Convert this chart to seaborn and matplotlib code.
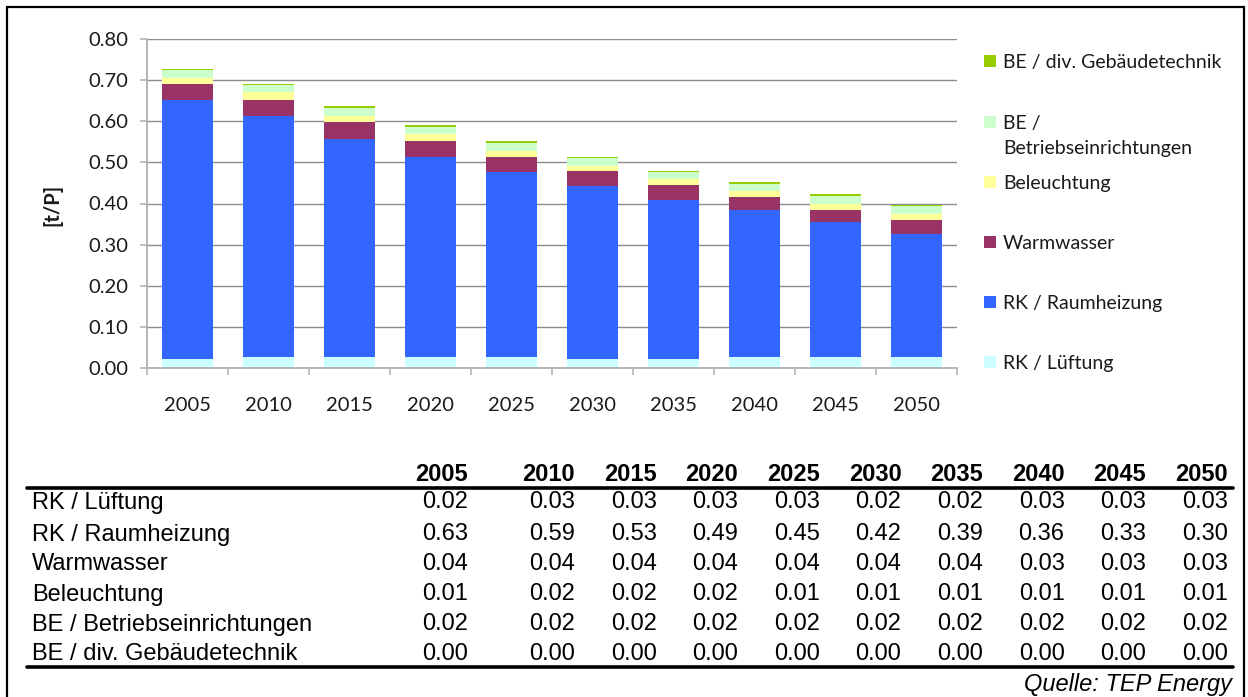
import numpy as np
import matplotlib
matplotlib.use("Agg")
import matplotlib.pyplot as plt
import seaborn as sns
from matplotlib.lines import Line2D
from matplotlib.patches import Rectangle
from matplotlib.ticker import FormatStrFormatter, FixedLocator

# CO2 emissions per person by end use [t/P]
years = ["2005", "2010", "2015", "2020", "2025", "2030", "2035", "2040", "2045", "2050"]
lueftung = [0.021, 0.026, 0.026, 0.026, 0.026, 0.022, 0.022, 0.026, 0.026, 0.026]
raumheizung = [0.631, 0.587, 0.532, 0.487, 0.451, 0.420, 0.387, 0.358, 0.329, 0.301]
warmwasser = [0.039, 0.039, 0.039, 0.039, 0.036, 0.036, 0.036, 0.032, 0.030, 0.033]
beleuchtung = [0.014, 0.018, 0.016, 0.016, 0.014, 0.013, 0.014, 0.014, 0.014, 0.014]
betriebseinrichtungen = [0.020, 0.017, 0.019, 0.018, 0.020, 0.020, 0.018, 0.018, 0.019, 0.019]
gebaeudetechnik = [0.003, 0.004, 0.004, 0.004, 0.004, 0.002, 0.002, 0.004, 0.004, 0.004]

labels = ["RK / Lüftung", "RK / Raumheizung", "Warmwasser", "Beleuchtung",
          "BE / Betriebseinrichtungen", "BE / div. Gebäudetechnik"]
colors = ["#CCFFFF", "#3366FF", "#993366", "#FFFF99", "#CCFFCC", "#99CC00"]
series = [lueftung, raumheizung, warmwasser, beleuchtung, betriebseinrichtungen, gebaeudetechnik]

sns.set_style("white")
plt.rcParams["font.family"] = ["Lato", "DejaVu Sans"]

W, H = 1248, 697
fig = plt.figure(figsize=(W / 100, H / 100), dpi=100)


def fx(px):
    return px / W


def fy(py):
    return 1 - py / H


ax = fig.add_axes([fx(147), fy(368), (957 - 147) / W, (368 - 39) / H])

# stacked bars
bottom = np.zeros(len(years))
for vals, color in zip(series, colors):
    sns.barplot(x=years, y=vals, bottom=bottom.copy(), color=color, saturation=1,
                width=0.62, errorbar=None, linewidth=0, ax=ax)
    bottom += np.array(vals)

ax.set_xlim(-0.5, len(years) - 0.5)
ax.set_ylim(0, 0.8)
ax.set_yticks(np.arange(0, 0.801, 0.1))
ax.yaxis.set_major_formatter(FormatStrFormatter("%.2f"))
ax.yaxis.grid(True, color="#8c8c8c", lw=1.0)
ax.xaxis.grid(False)
ax.set_axisbelow(True)
for s in ["top", "right"]:
    ax.spines[s].set_visible(False)
for s in ["left", "bottom"]:
    ax.spines[s].set_color("#b4b4b4")
    ax.spines[s].set_linewidth(1.4)
ax.set_xlabel("")
ax.set_ylabel("")
ax.tick_params(axis="y", length=5, width=1.2, color="#b4b4b4", labelsize=14.5,
               pad=8.5, left=True, labelcolor="#1a1a1a")
ax.tick_params(axis="x", which="major", length=0, labelsize=14.5, pad=21,
               labelcolor="#1a1a1a")
ax.xaxis.set_minor_locator(FixedLocator(np.arange(-0.5, len(years), 1.0)))
ax.tick_params(axis="x", which="minor", length=5, width=1.2, color="#b4b4b4",
               bottom=True)

fig.text(fx(52), fy(205), "[t/P]", rotation=90, ha="center", va="center",
         fontsize=14.5, fontweight="bold", color="#1a1a1a")

# legend (top entry = last series)
leg_rows = [
    (5, [61]),
    (4, [122, 147]),
    (3, [182]),
    (2, [242]),
    (1, [302]),
    (0, [362]),
]
for idx, ys in leg_rows:
    fig.patches.append(Rectangle((fx(984), fy(ys[0] + 6)), 12 / W, 12 / H,
                                 transform=fig.transFigure, facecolor=colors[idx],
                                 edgecolor="none", figure=fig))
    parts = ["BE /", "Betriebseinrichtungen"] if len(ys) == 2 else [labels[idx]]
    for txt, yy in zip(parts, ys):
        fig.text(fx(1003), fy(yy + 7), txt, ha="left", va="baseline",
                 fontsize=14, color="#1a1a1a")

# data table
tfont = dict(family=["Liberation Sans", "DejaVu Sans"], fontsize=17, color="black")
col_right = [468] + [575 + 81.6 * k for k in range(9)]
for yr, xr in zip(years, col_right):
    fig.text(fx(xr), fy(481), yr, ha="right", va="baseline", fontweight="bold", **tfont)

row_y = [500, 532, 562, 592, 622, 652]
for lab, vals, ry in zip(labels, series, row_y):
    fig.text(fx(32), fy(ry + 8.5), lab, ha="left", va="baseline", **tfont)
    for v, xr in zip(vals, col_right):
        fig.text(fx(xr), fy(ry + 8.5), f"{v:.2f}", ha="right", va="baseline", **tfont)

for ly in [488, 667]:
    fig.add_artist(Line2D([fx(27), fx(1233)], [fy(ly), fy(ly)], color="black",
                          lw=2.6, transform=fig.transFigure))

fig.text(fx(1232), fy(691), "Quelle: TEP Energy", ha="right", va="baseline",
         style="italic", **tfont)

# outer frame
frame = dict(color="black", lw=1.6, transform=fig.transFigure)
fig.add_artist(Line2D([fx(7), fx(7)], [fy(7), 0], **frame))
fig.add_artist(Line2D([fx(7), fx(1244)], [fy(7), fy(7)], **frame))
fig.add_artist(Line2D([fx(1244), fx(1244)], [fy(7), 0], **frame))

fig.savefig("out.png", dpi=100)
